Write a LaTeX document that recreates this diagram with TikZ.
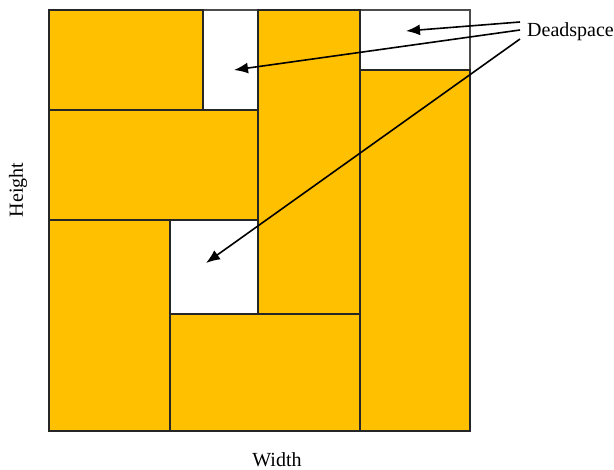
\documentclass[tikz,border=0pt]{standalone}
\usepackage{fontspec}
\setmainfont{Liberation Serif}
\usetikzlibrary{calc, arrows.meta}

\definecolor{binfill}{HTML}{FFC000}

\begin{document}
\begin{tikzpicture}[
        x=1pt, y=-1pt,
        block/.style={fill=binfill, draw=black!85, line width=1.4pt},
        gap/.style={fill=white, draw=black!70, line width=1.4pt},
        arrow/.style={-{Latex[length=14pt, width=11pt]}, line width=1.6pt},
        lbl/.style={font=\fontsize{20}{24}\selectfont, inner sep=0pt},
    ]
    \useasboundingbox (0,0) rectangle (614,470);

    % ====== container ======
    \draw[gap] (49,10) rectangle (470,431);

    % ====== packed blocks ======
    \draw[block] (49,10)  rectangle (203,110);
    \draw[block] (49,110) rectangle (258,220);
    \draw[block] (258,10) rectangle (360,314);
    \draw[block] (360,70) rectangle (470,431);
    \draw[block] (49,220) rectangle (170,431);
    \draw[block] (170,314) rectangle (360,431);

    % ====== labels ======
    \node[lbl, rotate=90] (height) at (18,190) {Height};
    \node[lbl] (width) at (277,460) {Width};
    \node[lbl, anchor=west] (dead) at (527,32) {Deadspace};

    % ====== deadspace targets ======
    \coordinate (gapTR) at (406,31);
    \coordinate (gapTL) at (234,70);
    \coordinate (gapMid) at (206,263);

    % ====== arrows ======
    \draw[arrow] ($(dead.west)+(-7,-10)$) -- (gapTR);
    \draw[arrow] ($(dead.west)+(-7,-2)$) -- (gapTL);
    \draw[arrow] ($(dead.west)+(-7,7)$) -- (gapMid);

\end{tikzpicture}
\end{document}
